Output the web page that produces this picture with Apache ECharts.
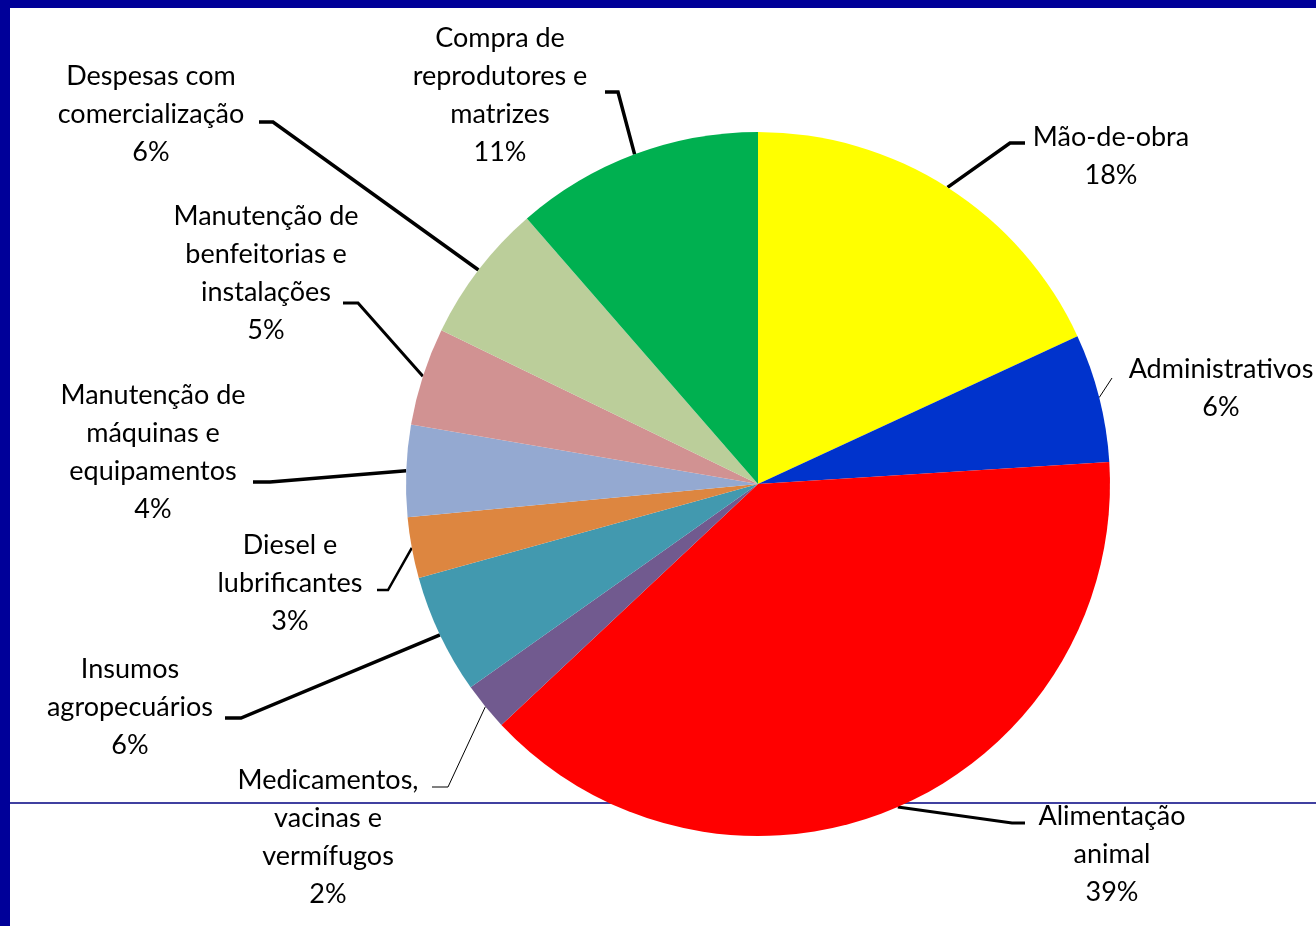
<!DOCTYPE html>
<html>
<head>
<meta charset="utf-8">
<script src="https://cdn.jsdelivr.net/npm/echarts@6/dist/echarts.min.js"></script>
<style>
html,body{margin:0;padding:0;background:#fff;}
#chart{width:1316px;height:926px;}
</style>
</head>
<body>
<div id="chart"></div>
<script>
// Categories (line breaks as in the original labels)
var categories = [
  'Mão-de-obra',
  'Administrativos',
  'Alimentação\nanimal',
  'Medicamentos,\nvacinas e\nvermífugos',
  'Insumos\nagropecuários',
  'Diesel e\nlubrificantes',
  'Manutenção de\nmáquinas e\nequipamentos',
  'Manutenção de\nbenfeitorias e\ninstalações',
  'Despesas com\ncomercialização',
  'Compra de\nreprodutores e\nmatrizes'
];
// Shares (%)
var shares = [18.1, 5.9, 39.0, 2.2, 5.5, 2.8, 4.2, 4.5, 6.4, 11.4];
var colors = ['#FFFF00', '#0033CC', '#FF0000', '#715A8F', '#4299AF', '#DD8640', '#94A9D1', '#D19292', '#BBCE9A', '#00B050'];

// Label placement (label block centre x, top y) and leader elbow/end points
var labelPos = [
  [1111, 118], [1221, 350], [1112, 797], [328, 761], [130, 650],
  [290, 526], [153, 376], [266, 197], [151, 57], [500, 19]
];
var leaderElbow = [
  [[1010, 143], [1025, 143]],
  [[1112, 378]],
  [[1012, 823], [1025, 823]],
  [[448, 787], [432, 787]],
  [[241, 718], [225, 718]],
  [[388, 590], [377, 590]],
  [[270, 482], [253, 482]],
  [[358, 303], [343, 303]],
  [[273, 122], [259, 122]],
  [[618, 92], [605, 92]]
];
var leaderWidth = [3.5, 1, 3, 1, 3.5, 2.5, 3.5, 3, 3.5, 3.5];

var chart = echarts.init(document.getElementById('chart'), null, {renderer: 'canvas'});

var data = categories.map(function (c, i) {
  return {
    name: c,
    value: shares[i],
    itemStyle: {color: colors[i]},
    labelLine: {lineStyle: {width: leaderWidth[i], color: '#000'}}
  };
});

var option = {
  backgroundColor: '#ffffff',
  animation: false,
  graphic: [
    {type: 'rect', shape: {x: 0, y: 0, width: 1316, height: 8}, style: {fill: '#000099'}, z: 0},
    {type: 'rect', shape: {x: 0, y: 0, width: 10, height: 926}, style: {fill: '#000099'}, z: 0},
    {type: 'line', shape: {x1: 10, y1: 803, x2: 1316, y2: 803}, style: {stroke: '#000080', lineWidth: 1.5}, z: 0}
  ],
  series: [{
    type: 'pie',
    z: 2,
    center: [758, 484],
    radius: 352,
    startAngle: 90,
    clockwise: true,
    avoidLabelOverlap: false,
    data: data,
    itemStyle: {borderWidth: 0},
    label: {
      show: true,
      position: 'outside',
      fontFamily: 'Lato',
      fontSize: 27,
      lineHeight: 38,
      color: '#000',
      align: 'center',
      formatter: function (p) { return p.name + '\n' + Math.round(p.value) + '%'; }
    },
    labelLine: {show: true, length: 10, length2: 10, smooth: false},
    labelLayout: function (params) {
      var i = params.dataIndex;
      var start = params.labelLinePoints ? params.labelLinePoints[0] : null;
      var pts = start ? [start].concat(leaderElbow[i]) : undefined;
      if (pts && pts.length === 2) { pts.push(pts[1]); }
      return {
        x: labelPos[i][0],
        y: labelPos[i][1],
        align: 'center',
        verticalAlign: 'top',
        labelLinePoints: pts
      };
    }
  }]
};
chart.setOption(option);
</script>
</body>
</html>
